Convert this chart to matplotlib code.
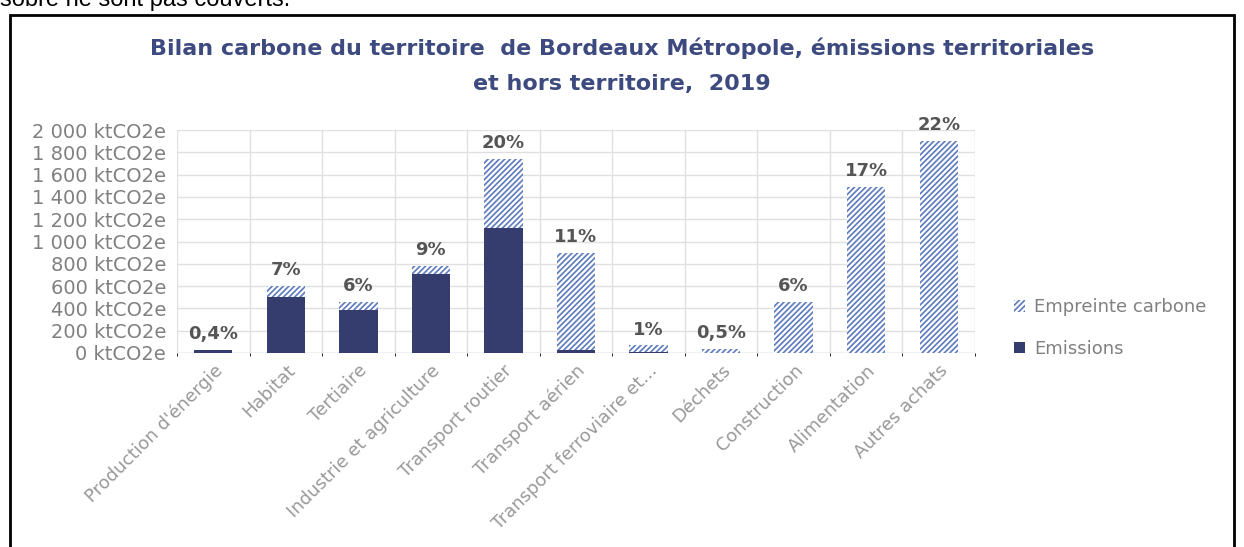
import numpy as np
import matplotlib.pyplot as plt
from matplotlib.patches import Rectangle

categories = ["Production d'énergie", "Habitat", "Tertiaire", "Industrie et agriculture",
              "Transport routier", "Transport aérien", "Transport ferroviaire et...",
              "Déchets", "Construction", "Alimentation", "Autres achats"]
emissions = [25, 500, 390, 710, 1120, 25, 5, 0, 0, 0, 0]
empreinte = [5, 100, 70, 70, 620, 875, 65, 35, 460, 1490, 1900]
pct_labels = ["0,4%", "7%", "6%", "9%", "20%", "11%", "1%", "0,5%", "6%", "17%", "22%"]
yticks = [0, 200, 400, 600, 800, 1000, 1200, 1400, 1600, 1800, 2000]

navy = '#353d6e'
hatch_blue = '#5e7bbd'
grey = '#808080'

plt.rcParams['font.family'] = ['DejaVu Sans']
plt.rcParams['hatch.linewidth'] = 1.6

fig = plt.figure(figsize=(12.44, 5.47), dpi=100)
fig.patches.append(Rectangle((10 / 1244, -0.1), 1224 / 1244, 1 - 15 / 547 + 0.1,
                             transform=fig.transFigure, fill=False, ec='black', lw=2))
fig.text(0.0, 1.0, "sobre ne sont pas couverts.", fontsize=17, va='center', ha='left',
         family='Liberation Sans')

ax = fig.add_axes([177 / 1244, 1 - 353 / 547, 798 / 1244, 223 / 547])
x = np.arange(len(categories))
w = 0.53
ax.bar(x, emissions, w, color=navy, label='Emissions', zorder=3)
ax.bar(x, empreinte, w, bottom=emissions, color=hatch_blue, edgecolor='white',
       hatch='//////', linewidth=0, label='Empreinte carbone', zorder=3)

totals = np.array(emissions) + np.array(empreinte)
for xi, t, lab in zip(x, totals, pct_labels):
    ax.text(xi, t + 60, lab, ha='center', va='bottom', fontsize=13, color='#555555',
            fontweight='bold')

ax.set_xlim(-0.5, len(categories) - 0.5)
ax.set_ylim(0, 2000)
ax.set_yticks(yticks)
ax.set_yticklabels([f"{v:,}".replace(",", " ") + " ktCO2e" for v in yticks],
                   fontsize=14, color=grey)
ax.set_xticks(x)
ax.set_xticklabels(categories, rotation=45, ha='right', rotation_mode='anchor',
                   fontsize=13, color='#999999')
ax.tick_params(axis='x', length=0, pad=6)
ax.tick_params(axis='y', length=0, pad=8)
ax.set_xticks(np.arange(-0.5, len(categories)), minor=True)
ax.grid(axis='y', color='#e0e0e0', lw=1, zorder=0)
ax.grid(axis='x', which='minor', color='#e0e0e0', lw=1, zorder=0)
ax.grid(axis='x', which='major', visible=False)
for s in ax.spines.values():
    s.set_visible(False)
ax.axhline(0, color='#d8d8d8', lw=1, zorder=2)

handles, labels = ax.get_legend_handles_labels()
fig.legend(handles[::-1], labels[::-1], loc='center left',
           bbox_to_anchor=(998 / 1244, 1 - 328 / 547), frameon=False, fontsize=13,
           labelcolor=grey, handlelength=0.6, handleheight=0.6, labelspacing=1.3,
           handletextpad=0.5)

fig.text(622 / 1244, 1 - 48 / 547,
         "Bilan carbone du territoire  de Bordeaux Métropole, émissions territoriales",
         ha='center', va='center', fontsize=16, color='#3d4a80', fontweight='bold')
fig.text(622 / 1244, 1 - 84 / 547, "et hors territoire,  2019",
         ha='center', va='center', fontsize=16, color='#3d4a80', fontweight='bold')

fig.savefig('out.png', dpi=100)
